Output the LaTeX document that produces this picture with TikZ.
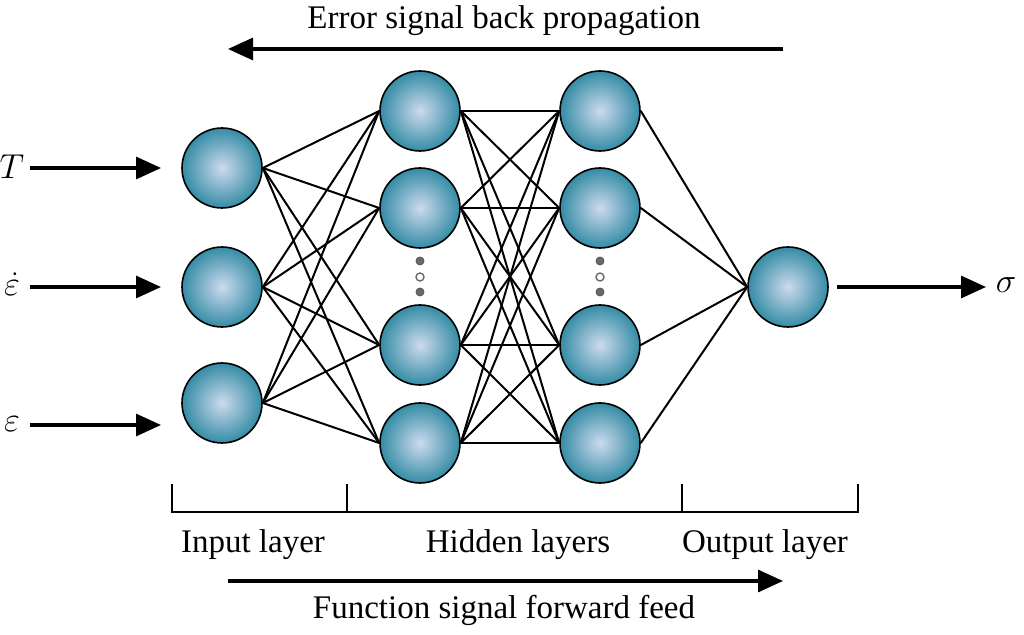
\documentclass[tikz,border=0pt]{standalone}
\usepackage{fontspec}
\setmainfont{Liberation Serif}
\usetikzlibrary{arrows.meta}

\definecolor{balledge}{RGB}{52,140,165}
\definecolor{ballcore}{RGB}{205,218,238}
\definecolor{dotgray}{RGB}{105,105,105}

\tikzset{
  neuron/.style={circle, draw=black, line width=0.8pt, minimum size=40pt, inner sep=0pt,
    inner color=ballcore, outer color=balledge},
  link/.style={line width=1pt},
  bigarrow/.style={line width=1.6pt, -{Triangle[length=12.5pt,width=11pt]}},
  dotfull/.style={circle, fill=dotgray, draw=dotgray!80!black, line width=0.4pt, minimum size=4pt, inner sep=0pt},
  dotempty/.style={circle, fill=white, draw=dotgray, line width=0.7pt, minimum size=4pt, inner sep=0pt},
  lbl/.style={font=\fontsize{16.5}{19}\selectfont, inner sep=0pt},
  sym/.style={font=\fontsize{19}{22}\selectfont, inner sep=0pt}
}

\begin{document}
\begin{tikzpicture}[x=0.5pt,y=-0.5pt]
\useasboundingbox (0,0) rectangle (1024,635);

% layers
\foreach \y [count=\i] in {168,287,403} \node[neuron] (in\i) at (222,\y) {};
\foreach \y [count=\i] in {111,208,345,443} \node[neuron] (ha\i) at (420,\y) {};
\foreach \y [count=\i] in {111,208,345,443} \node[neuron] (hb\i) at (600,\y) {};
\node[neuron] (out) at (788,287) {};

% connections
\foreach \i in {1,2,3} \foreach \j in {1,...,4} \draw[link] (in\i.east) -- (ha\j.west);
\foreach \i in {1,...,4} \foreach \j in {1,...,4} \draw[link] (ha\i.east) -- (hb\j.west);
\foreach \i in {1,...,4} \draw[link] (hb\i.east) -- (out.west);

% dots between hidden nodes
\foreach \x/\n in {420/a,600/b} {
  \node[dotfull] (dt\n1) at (\x,261) {};
  \node[dotempty] (dt\n2) at (\x,277) {};
  \node[dotfull] (dt\n3) at (\x,292) {};
}

% inputs and output
\node[sym] (lT) at (12,167) {$T$};
\node[sym] (ldot) at (12,284) {$\dot{\varepsilon}$};
\node[sym] (leps) at (12,424) {$\varepsilon$};
\coordinate (aT) at (161,168);
\coordinate (adot) at (161,287);
\coordinate (aeps) at (161,425);
\draw[bigarrow] (30,168) -- (aT);
\draw[bigarrow] (30,287) -- (adot);
\draw[bigarrow] (30,425) -- (aeps);
\node[sym] (lsig) at (1006,285) {$\sigma$};
\coordinate (asig) at (986,287);
\draw[bigarrow] (out.east) ++(8,0) -- (asig);

% propagation arrows
\node[lbl] (back) at (504,21) {Error signal back propagation};
\coordinate (bs) at (783,49);
\coordinate (be) at (228,49);
\draw[bigarrow] (bs) -- (be);
\node[lbl] (fwd) at (504,610) {Function signal forward feed};
\coordinate (fs) at (228,581);
\coordinate (fe) at (783,581);
\draw[bigarrow] (fs) -- (fe);

% layer bracket
\draw[line width=1.1pt] (172,484) -- (172,512) -- (858,512) -- (858,484);
\draw[line width=1.1pt] (347,484) -- (347,512);
\draw[line width=1.1pt] (682,484) -- (682,512);
\node[lbl] (lin) at (253,545) {Input layer};
\node[lbl] (lhid) at (518,545) {Hidden layers};
\node[lbl] (lout) at (765,545) {Output layer};
\end{tikzpicture}
\end{document}
